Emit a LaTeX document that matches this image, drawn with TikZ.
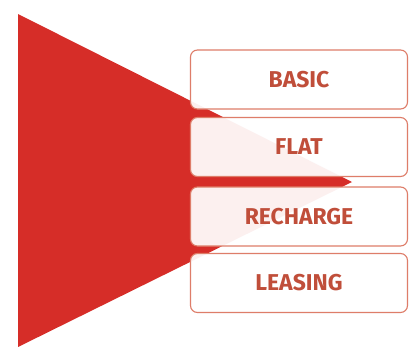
\documentclass[tikz,border=0pt]{standalone}
\usepackage{fontspec}
\setmainfont{Fira Sans}
\definecolor{tri}{RGB}{214,45,40}
\definecolor{boxline}{RGB}{222,125,105}
\definecolor{boxtext}{RGB}{192,78,58}
\begin{document}
\begin{tikzpicture}[x=1bp,y=-1bp,
  optbox/.style={draw=boxline, line width=1.1bp, rounded corners=7bp, fill=white, fill opacity=0.93, text opacity=1,
    minimum width=217bp, minimum height=59bp, inner sep=0pt, text=boxtext,
    font=\fontsize{23}{26}\selectfont\bfseries}]
\useasboundingbox (0,0) rectangle (409,347);
\fill[white] (0,0) rectangle (409,347);
\coordinate (ta) at (18,14);
\coordinate (tb) at (18,347);
\coordinate (tc) at (352,182);
\fill[tri] (ta) -- (tc) -- (tb) -- cycle;
\node[optbox] (basic) at (299,79.5) {BASIC};
\node[optbox] (flat) at (299,147) {FLAT};
\node[optbox] (recharge) at (299,216.5) {RECHARGE};
\node[optbox] (leasing) at (299,283) {LEASING};
\end{tikzpicture}
\end{document}
